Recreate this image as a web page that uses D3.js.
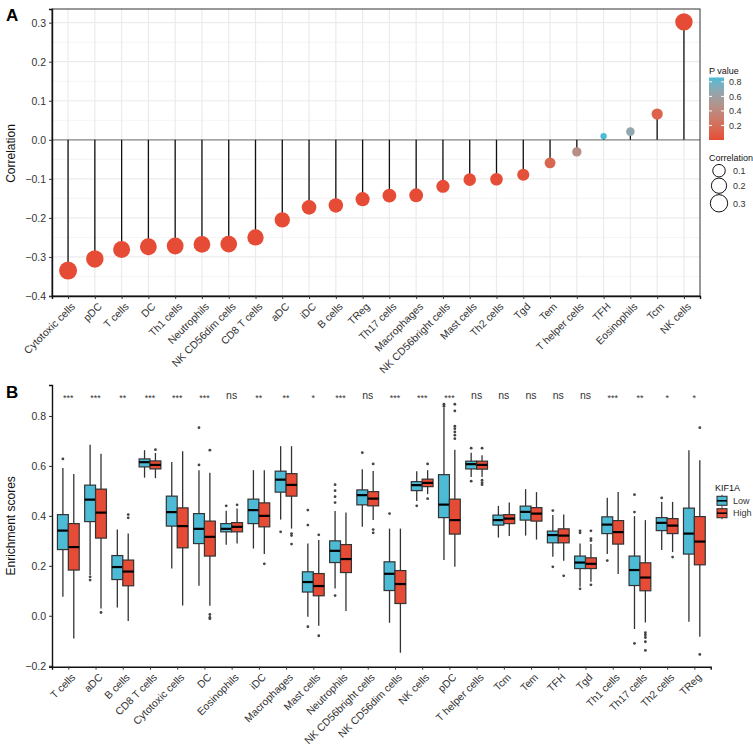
<!DOCTYPE html>
<html>
<head>
<meta charset="utf-8">
<script src="https://cdn.jsdelivr.net/npm/d3@7"></script>
<style>
  body { margin: 0; background: #fff; }
  text { font-family: "Liberation Sans", Arial, sans-serif; }
</style>
</head>
<body>
<div id="chart"></div>
<script>
// ---- panel A data ----
const lollipopCells = ['Cytotoxic cells', 'pDC', 'T cells', 'DC', 'Th1 cells', 'Neutrophils', 'NK CD56dim cells',
  'CD8 T cells', 'aDC', 'iDC', 'B cells', 'TReg', 'Th17 cells', 'Macrophages', 'NK CD56bright cells',
  'Mast cells', 'Th2 cells', 'Tgd', 'Tem', 'T helper cells', 'TFH', 'Eosinophils', 'Tcm', 'NK cells']
const correlations = [-0.335, -0.305, -0.281, -0.274, -0.272, -0.268, -0.267, -0.25, -0.205, -0.173, -0.168,
  -0.152, -0.143, -0.142, -0.119, -0.102, -0.101, -0.0895, -0.059, -0.031, 0.0095, 0.021, 0.066, 0.302]
const pValues = [0.0001, 0.0001, 0.0001, 0.0001, 0.0001, 0.0001, 0.0001, 0.0001, 0.0001, 0.0005, 0.0006,
  0.001, 0.002, 0.002, 0.005, 0.01, 0.01, 0.03, 0.15, 0.45, 0.86, 0.66, 0.12, 0.0001]
const corTicks = [-0.4, -0.3, -0.2, -0.1, 0, 0.1, 0.2, 0.3]
const pTicks = [0.2, 0.4, 0.6, 0.8]
const sizeTicks = [0.1, 0.2, 0.3]

// ---- panel B data ----
const boxCells = ['T cells', 'aDC', 'B cells', 'CD8 T cells', 'Cytotoxic cells', 'DC', 'Eosinophils', 'iDC',
  'Macrophages', 'Mast cells', 'Neutrophils', 'NK CD56bright cells', 'NK CD56dim cells', 'NK cells', 'pDC',
  'T helper cells', 'Tcm', 'Tem', 'TFH', 'Tgd', 'Th1 cells', 'Th17 cells', 'Th2 cells', 'TReg']
// [lower whisker, q1, median, q3, upper whisker]
const lowBoxes = [
  [0.076, 0.265, 0.341, 0.405, 0.592], [0.163, 0.377, 0.465, 0.523, 0.685], [0.033, 0.145, 0.195, 0.241, 0.345],
  [0.553, 0.596, 0.615, 0.628, 0.663], [0.189, 0.359, 0.415, 0.479, 0.616], [0.12, 0.289, 0.348, 0.409, 0.583],
  [0.284, 0.336, 0.348, 0.369, 0.42], [0.269, 0.369, 0.423, 0.467, 0.583], [0.385, 0.495, 0.545, 0.579, 0.679],
  [-0.004, 0.095, 0.135, 0.176, 0.289], [0.109, 0.213, 0.26, 0.3, 0.419], [0.356, 0.444, 0.483, 0.504, 0.587],
  [-0.028, 0.101, 0.168, 0.216, 0.349], [0.46, 0.501, 0.523, 0.537, 0.579], [0.223, 0.393, 0.445, 0.565, 0.833],
  [0.556, 0.588, 0.607, 0.619, 0.653], [0.313, 0.363, 0.383, 0.403, 0.44], [0.321, 0.383, 0.416, 0.439, 0.507],
  [0.236, 0.292, 0.323, 0.339, 0.403], [0.116, 0.189, 0.213, 0.239, 0.289], [0.247, 0.329, 0.365, 0.396, 0.473],
  [-0.053, 0.121, 0.183, 0.239, 0.399], [0.263, 0.341, 0.372, 0.393, 0.456], [-0.024, 0.247, 0.329, 0.431, 0.663]
]
const highBoxes = [
  [-0.091, 0.183, 0.275, 0.369, 0.568], [0.029, 0.311, 0.413, 0.507, 0.649], [-0.021, 0.12, 0.177, 0.223, 0.329],
  [0.551, 0.588, 0.604, 0.62, 0.652], [0.041, 0.272, 0.359, 0.432, 0.659], [0.04, 0.239, 0.316, 0.379, 0.573],
  [0.289, 0.336, 0.356, 0.373, 0.429], [0.247, 0.356, 0.4, 0.452, 0.583], [0.349, 0.479, 0.524, 0.569, 0.679],
  [-0.04, 0.08, 0.119, 0.169, 0.303], [0.019, 0.173, 0.227, 0.285, 0.413], [0.383, 0.44, 0.469, 0.497, 0.58],
  [-0.148, 0.049, 0.127, 0.181, 0.349], [0.487, 0.517, 0.532, 0.547, 0.583], [0.196, 0.327, 0.383, 0.467, 0.665],
  [0.556, 0.587, 0.604, 0.619, 0.643], [0.319, 0.369, 0.389, 0.405, 0.453], [0.305, 0.379, 0.409, 0.433, 0.495],
  [0.22, 0.292, 0.321, 0.348, 0.405], [0.136, 0.189, 0.208, 0.232, 0.287], [0.167, 0.287, 0.335, 0.381, 0.496],
  [-0.027, 0.1, 0.153, 0.212, 0.383], [0.255, 0.329, 0.361, 0.389, 0.456], [-0.084, 0.204, 0.297, 0.397, 0.623]
]
const lowOutliers = [[0.628], [0.156, 0.143], [], [], [], [0.753, 0.604], [0.44], [], [0.336],
  [0.423, 0.363, -0.044], [0.525, 0.501, 0.477, 0.453, 0.081], [0.653], [0.409], [0.44], [0.847, 0.839],
  [0.671, 0.539], [], [], [0.421, 0.196], [0.34, 0.332, 0.108], [0.221], [0.485, 0.415, -0.111], [0.472], []]
const highOutliers = [[], [0.013], [0.405, 0.392], [0.665], [], [0.663, 0.005, -0.007, -0.012], [0.444], [0.208],
  [0.329, 0.321, 0.287], [0.324, -0.08], [], [0.608, 0.345, 0.332], [], [0.608, 0.469],
  [0.847, 0.82, 0.759, 0.749, 0.736, 0.723, 0.709], [0.671, 0.543, 0.533, 0.525], [], [], [0.16],
  [0.34, 0.309, 0.301, 0.124], [], [-0.068, -0.077, -0.087, -0.104, -0.139], [0.235], [0.753, -0.155]]
const sigLabels = ['***', '***', '**', '***', '***', '***', 'ns', '**', '**', '*', '***', 'ns', '***', '***', '***',
  'ns', 'ns', 'ns', 'ns', 'ns', '***', '**', '*', '*']
const scoreTicks = [-0.2, 0, 0.2, 0.4, 0.6, 0.8]
const groups = ['Low', 'High']

const red = '#E64B35'
const cyan = '#4DBBD5'
const ink = '#333'

const svg = d3.select('#chart').append('svg')
  .attr('width', 753)
  .attr('height', 750)

// ================= Panel A =================
const ax = d3.scalePoint().domain(lollipopCells).range([52, 700]).padding(0.6)
const ay = d3.scaleLinear().domain([-0.4, 0.335]).range([296, 9])
const pMax = d3.max(pValues)
const color = d3.scaleLinear().domain([0, pMax]).range([red, cyan]).interpolate(d3.interpolateLab)
const absCor = correlations.map(Math.abs)
const sizeT = d3.scaleLinear().domain(d3.extent(absCor)).range([0, 1]).clamp(true)
const radius = v => 3.2 + 5.8 * Math.sqrt(sizeT(v))

const gA = svg.append('g')

// grid
const minorA = d3.range(-0.35, 0.34, 0.1)
gA.selectAll('.minor').data(minorA).join('line')
  .attr('x1', 52).attr('x2', 700)
  .attr('y1', d => ay(d)).attr('y2', d => ay(d))
  .attr('stroke', '#EFEFEF').attr('stroke-width', 0.7)
gA.selectAll('.majorY').data(corTicks).join('line')
  .attr('x1', 52).attr('x2', 700)
  .attr('y1', d => ay(d)).attr('y2', d => ay(d))
  .attr('stroke', '#EBEBEB').attr('stroke-width', 1.2)
gA.selectAll('.majorX').data(lollipopCells).join('line')
  .attr('x1', d => ax(d)).attr('x2', d => ax(d))
  .attr('y1', 9).attr('y2', 296)
  .attr('stroke', '#EBEBEB').attr('stroke-width', 1.2)

// zero line
gA.append('line')
  .attr('x1', 52).attr('x2', 700)
  .attr('y1', ay(0)).attr('y2', ay(0))
  .attr('stroke', '#8a8a8a').attr('stroke-width', 1.3)

// stems
gA.selectAll('.stem').data(lollipopCells).join('line')
  .attr('x1', d => ax(d)).attr('x2', d => ax(d))
  .attr('y1', ay(0)).attr('y2', (d, i) => ay(correlations[i]))
  .attr('stroke', '#111').attr('stroke-width', 1.3)

// dots
gA.selectAll('.dot').data(lollipopCells).join('circle')
  .attr('cx', d => ax(d))
  .attr('cy', (d, i) => ay(correlations[i]))
  .attr('r', (d, i) => radius(absCor[i]))
  .attr('fill', (d, i) => color(pValues[i]))

// border
gA.append('rect')
  .attr('x', 52).attr('y', 9).attr('width', 648).attr('height', 287)
  .attr('fill', 'none').attr('stroke', ink).attr('stroke-width', 1)

// axes
const yAxisA = gA.append('g')
  .attr('transform', 'translate(52,0)')
  .call(d3.axisLeft(ay).tickValues(corTicks).tickFormat(d3.format('.1f')).tickSize(3).tickPadding(3))
const xAxisA = gA.append('g')
  .attr('transform', 'translate(0,296)')
  .call(d3.axisBottom(ax).tickSize(3).tickPadding(3))
for (const g of [yAxisA, xAxisA]) {
  g.select('.domain').attr('stroke', '#111').attr('stroke-width', 1.4)
  g.selectAll('.tick line').attr('stroke', ink)
  g.selectAll('text').attr('fill', ink).style('font-size', '10.5px')
}
xAxisA.selectAll('text')
  .attr('text-anchor', 'end')
  .attr('dy', 0)
  .attr('transform', 'translate(3,7) rotate(-45)')

gA.append('text')
  .attr('transform', `translate(15,${ay(-0.035)}) rotate(-90)`)
  .attr('text-anchor', 'middle')
  .style('font-size', '12px')
  .attr('fill', '#111')
  .text('Correlation')

gA.append('text').attr('x', 6).attr('y', 21)
  .style('font-size', '17px').style('font-weight', 'bold').text('A')

// legend: P value colourbar
const cb = { x: 709, y0: 77.5, y1: 140, w: 15 }
const cy = d3.scaleLinear().domain([0, pMax]).range([cb.y1, cb.y0])
const defs = svg.append('defs')
const grad = defs.append('linearGradient').attr('id', 'pgrad')
  .attr('x1', 0).attr('x2', 0).attr('y1', 1).attr('y2', 0)
grad.selectAll('stop').data(d3.range(0, 1.001, 0.1)).join('stop')
  .attr('offset', d => d)
  .attr('stop-color', d => color(d * pMax))
gA.append('text').attr('x', cb.x).attr('y', 74)
  .style('font-size', '9px').attr('fill', '#111').text('P value')
gA.append('rect')
  .attr('x', cb.x).attr('y', cb.y0).attr('width', cb.w).attr('height', cb.y1 - cb.y0)
  .attr('fill', 'url(#pgrad)')
gA.selectAll('.cbtick').data(pTicks).join('g')
  .each(function (d) {
    const g = d3.select(this)
    g.append('line').attr('x1', cb.x).attr('x2', cb.x + 3).attr('y1', cy(d)).attr('y2', cy(d))
      .attr('stroke', '#fff')
    g.append('line').attr('x1', cb.x + cb.w - 3).attr('x2', cb.x + cb.w).attr('y1', cy(d)).attr('y2', cy(d))
      .attr('stroke', '#fff')
    g.append('text').attr('x', cb.x + 20).attr('y', cy(d) + 3.2)
      .style('font-size', '9px').attr('fill', ink).text(d.toFixed(1))
  })

// legend: Correlation size
gA.append('text').attr('x', 709).attr('y', 161)
  .style('font-size', '9px').attr('fill', '#111').text('Correlation')
const sizeY = [170.7, 185.7, 203.3]
gA.selectAll('.sizeKey').data(sizeTicks).join('g')
  .each(function (d, i) {
    const g = d3.select(this)
    g.append('circle').attr('cx', 719).attr('cy', sizeY[i]).attr('r', radius(d))
      .attr('fill', 'none').attr('stroke', '#111').attr('stroke-width', 1)
    g.append('text').attr('x', 733).attr('y', sizeY[i] + 3.2)
      .style('font-size', '9px').attr('fill', ink).text(d.toFixed(1))
  })

// ================= Panel B =================
const bx = d3.scalePoint().domain(boxCells).range([52, 710.7]).padding(0.6)
const by = d3.scaleLinear().domain([-0.204, 0.924]).range([666.7, 385])
const step = bx.step()
const boxW = step * 0.4
const groupColor = { Low: cyan, High: red }
const groupShift = { Low: -step * 0.2, High: step * 0.2 }
const groupStats = { Low: lowBoxes, High: highBoxes }
const groupOut = { Low: lowOutliers, High: highOutliers }

const gB = svg.append('g')

for (const grp of groups) {
  const cells = gB.selectAll(null).data(boxCells).join('g')
    .attr('transform', d => `translate(${bx(d) + groupShift[grp]},0)`)
  cells.append('line')
    .attr('y1', (d, i) => by(groupStats[grp][i][0]))
    .attr('y2', (d, i) => by(groupStats[grp][i][4]))
    .attr('stroke', ink).attr('stroke-width', 1.3)
  cells.append('rect')
    .attr('x', -boxW / 2).attr('width', boxW)
    .attr('y', (d, i) => by(groupStats[grp][i][3]))
    .attr('height', (d, i) => by(groupStats[grp][i][1]) - by(groupStats[grp][i][3]))
    .attr('fill', groupColor[grp]).attr('stroke', ink).attr('stroke-width', 1.2)
  cells.append('line')
    .attr('x1', -boxW / 2).attr('x2', boxW / 2)
    .attr('y1', (d, i) => by(groupStats[grp][i][2]))
    .attr('y2', (d, i) => by(groupStats[grp][i][2]))
    .attr('stroke', '#000').attr('stroke-width', 2.2)
  cells.selectAll('circle').data((d, i) => groupOut[grp][i]).join('circle')
    .attr('cy', v => by(v)).attr('r', 1.4).attr('fill', '#444')
}

// significance labels
gB.selectAll('.sig').data(boxCells).join('text')
  .attr('x', d => bx(d))
  .attr('y', (d, i) => sigLabels[i] === 'ns' ? 399 : 401)
  .attr('text-anchor', 'middle')
  .style('font-size', (d, i) => sigLabels[i] === 'ns' ? '10.5px' : '9px')
  .attr('fill', ink)
  .text((d, i) => sigLabels[i])

const yAxisB = gB.append('g')
  .attr('transform', 'translate(52,0)')
  .call(d3.axisLeft(by).tickValues(scoreTicks).tickFormat(d3.format('.1f')).tickSize(3).tickPadding(3))
const xAxisB = gB.append('g')
  .attr('transform', 'translate(0,666.7)')
  .call(d3.axisBottom(bx).tickSize(3).tickPadding(3))
for (const g of [yAxisB, xAxisB]) {
  g.select('.domain').attr('stroke', '#111').attr('stroke-width', 1.4)
  g.selectAll('.tick line').attr('stroke', ink)
  g.selectAll('text').attr('fill', ink).style('font-size', '10.5px')
}
xAxisB.selectAll('text')
  .attr('text-anchor', 'end')
  .attr('dy', 0)
  .attr('transform', 'translate(3,7) rotate(-45)')

gB.append('text')
  .attr('transform', `translate(15,${by(0.36)}) rotate(-90)`)
  .attr('text-anchor', 'middle')
  .style('font-size', '12px')
  .attr('fill', '#111')
  .text('Enrichment scores')

gB.append('text').attr('x', 6).attr('y', 398)
  .style('font-size', '17px').style('font-weight', 'bold').text('B')

// legend KIF1A
gB.append('text').attr('x', 715).attr('y', 491)
  .style('font-size', '9px').attr('fill', '#111').text('KIF1A')
const keyY = [500.8, 513.2]
gB.selectAll('.key').data(groups).join('g')
  .each(function (d, i) {
    const g = d3.select(this)
    const yc = keyY[i]
    g.append('line').attr('x1', 722).attr('x2', 722).attr('y1', yc - 6).attr('y2', yc + 6)
      .attr('stroke', ink).attr('stroke-width', 1)
    g.append('rect').attr('x', 717).attr('y', yc - 4.5).attr('width', 10).attr('height', 9)
      .attr('fill', groupColor[d]).attr('stroke', ink).attr('stroke-width', 1.1)
    g.append('line').attr('x1', 717).attr('x2', 727).attr('y1', yc).attr('y2', yc)
      .attr('stroke', '#000').attr('stroke-width', 1.6)
    g.append('text').attr('x', 733).attr('y', yc + 3.2)
      .style('font-size', '9px').attr('fill', ink).text(d)
  })
</script>
</body>
</html>
